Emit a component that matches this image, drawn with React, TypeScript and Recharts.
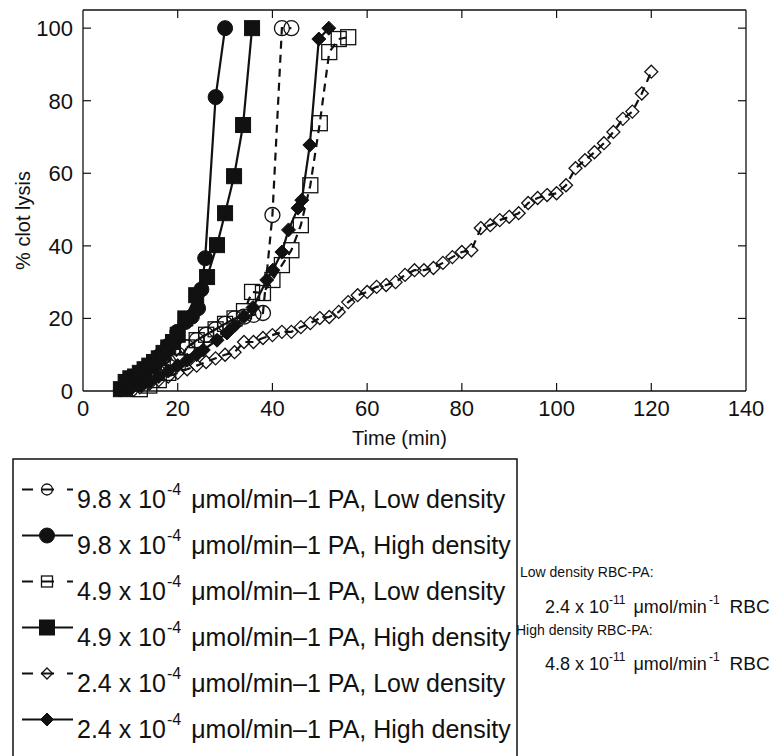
import React from 'react';
import { ScatterChart, Scatter, XAxis, YAxis, Label, ReferenceLine } from 'recharts';

const xTicks = [0, 20, 40, 60, 80, 100, 120, 140];
const yTicks = [0, 20, 40, 60, 80, 100];

// 9.8 x 10^-4 PA, low density (open circles, dashed)
const t98Low = [10, 12, 14, 16, 18, 20, 22, 24, 26, 28, 30, 32, 34, 36, 38, 40, 42, 44];
const v98Low = [0.5, 2, 4, 6, 8, 10, 12, 14, 15.5, 17, 18.5, 20, 20.5, 21, 21.5, 48.5, 100, 100];

// 9.8 x 10^-4 PA, high density (filled circles)
const t98High = [8, 10, 12, 14, 16, 18, 19.9, 21.6, 23, 24.3, 25, 25.8, 28, 30];
const v98High = [0.5, 2.5, 4.5, 7, 9.5, 12.5, 16.3, 19, 20.5, 22.8, 28, 36.6, 81, 100];

// 4.9 x 10^-4 PA, low density (open squares, dashed)
const t49Low = [12, 14, 16, 18, 20, 22, 24, 26, 28, 30, 32, 34, 35.7, 38, 40, 42, 44, 46, 48, 50, 52, 54, 56];
const v49Low = [0.5, 1.5, 3, 5, 8, 12, 14, 15.5, 17, 18.5, 20, 22, 27.3, 27, 30.6, 34.7, 38.8, 45.7, 56.7, 73.8, 93.4, 97, 97.5];

// 4.9 x 10^-4 PA, high density (filled squares)
const t49High = [8, 9, 10, 11, 12, 13, 14, 15, 16, 17, 18, 19, 20, 21.6, 23.9, 26.2, 28.3, 30, 31.9, 33.8, 35.7];
const v49High = [0.5, 2.5, 3.5, 4, 5, 6, 7, 8, 9, 10.5, 12, 13.5, 15.5, 20, 26.4, 31.4, 40.2, 49, 59.2, 73.3, 100];

// 2.4 x 10^-4 PA, low density (open diamonds, dashed)
const t24Low = [10, 12, 14, 16, 18, 20, 22, 24, 26, 28, 30, 32, 34, 36, 38, 40, 42, 44, 46, 48,
  50, 52, 54, 56, 58, 60, 62, 64, 66, 68, 70, 72, 74, 76, 78, 80, 82, 84, 86, 88,
  90, 92, 94, 96, 98, 100, 102, 104, 106, 108, 110, 112, 114, 116, 118, 120];
const v24Low = [0.5, 1, 2, 3, 4, 5, 6, 7, 8, 9, 10, 10.7, 13.5, 13.5, 14.6, 15.4, 16.3, 16.3, 17.6, 18.7,
  20.1, 20.4, 21.8, 24.5, 26.4, 27.3, 28.7, 29.2, 30, 32, 33.3, 33.3, 33.9, 35.3, 36.9, 38.3, 38.8, 44.9, 45.7, 47.1,
  48, 49, 51.8, 53.2, 54, 54.5, 56.7, 61.4, 63.6, 65.8, 68.3, 71.4, 75, 77, 82, 88];

// 2.4 x 10^-4 PA, high density (filled diamonds)
const t24High = [10, 12, 14, 16, 18, 20, 22, 24, 25.4, 28.3, 30.4, 32, 34, 35.9, 38.8, 40.1, 42, 43.4, 45.4, 46.2, 47.9, 49.8, 51.9];
const v24High = [0.5, 1.5, 2.5, 4, 5.5, 7, 8.5, 10, 11.3, 14, 16, 18, 20.5, 23, 30.6, 33.3, 38.3, 44.4, 50.4, 52.6, 67.8, 97, 100];

const zip = (xs: number[], ys: number[]) => xs.map((x, i) => ({ x, y: ys[i] }));

type Kind = 'circle' | 'square' | 'diamond';

interface SeriesDef {
  rate: string;
  density: string;
  kind: Kind;
  filled: boolean;
  dashed: boolean;
  data: { x: number; y: number }[];
}

const series: SeriesDef[] = [
  { rate: '9.8', density: 'Low', kind: 'circle', filled: false, dashed: true, data: zip(t98Low, v98Low) },
  { rate: '9.8', density: 'High', kind: 'circle', filled: true, dashed: false, data: zip(t98High, v98High) },
  { rate: '4.9', density: 'Low', kind: 'square', filled: false, dashed: true, data: zip(t49Low, v49Low) },
  { rate: '4.9', density: 'High', kind: 'square', filled: true, dashed: false, data: zip(t49High, v49High) },
  { rate: '2.4', density: 'Low', kind: 'diamond', filled: false, dashed: true, data: zip(t24Low, v24Low) },
  { rate: '2.4', density: 'High', kind: 'diamond', filled: true, dashed: false, data: zip(t24High, v24High) },
];

const FONT = '"Liberation Sans", Arial, Helvetica, sans-serif';
const INK = '#111';

const X_MAX = 140;
const Y_MAX = 105;
const PLOT_W = 663;
const PLOT_H = 381;
// inward tick length (8px) expressed in axis units
const TICK_X = (X_MAX * 8) / PLOT_W;
const TICK_Y = (Y_MAX * 8) / PLOT_H;

function marker(kind: Kind, filled: boolean, cx: number, cy: number, s: number) {
  const st = { fill: filled ? INK : 'none', stroke: INK, strokeWidth: filled ? 1 : 1.3 };
  if (kind === 'circle') return <circle cx={cx} cy={cy} r={s} {...st} />;
  if (kind === 'square') return <rect x={cx - s} y={cy - s} width={s * 2} height={s * 2} {...st} />;
  return <polygon points={`${cx},${cy - s} ${cx + s},${cy} ${cx},${cy + s} ${cx - s},${cy}`} {...st} />;
}

const chartSize = (k: Kind, filled: boolean) => (k === 'diamond' ? (filled ? 7 : 6.5) : 7.5);
const legendSize = (k: Kind, filled: boolean) => {
  if (k === 'circle') return filled ? 7.5 : 5.5;
  if (k === 'square') return filled ? 7.5 : 5.5;
  return filled ? 6.5 : 5.5;
};

const axisStroke = { stroke: INK, strokeWidth: 1.3 };
const tickStyle = { fill: INK, fontSize: 22 };

export default function App() {
  return (
    <div style={{ position: 'absolute', left: 0, top: 0, width: 773, height: 756, overflow: 'hidden', background: '#fff', fontFamily: FONT }}>
      <ScatterChart width={773} height={456} margin={{ top: 0, right: 0, bottom: 25, left: 0 }} style={{ fontFamily: FONT }}>
        <XAxis xAxisId="top" orientation="top" type="number" dataKey="x" domain={[0, X_MAX]} ticks={xTicks}
          height={10} tick={false} tickLine={false} axisLine={axisStroke} />
        <XAxis dataKey="x" type="number" domain={[0, X_MAX]} ticks={xTicks} interval={0} height={40}
          tickSize={0} tickMargin={9} tickLine={false} axisLine={axisStroke} tick={tickStyle}>
          <Label value="Time (min)" position="bottom" offset={0} dx={-15} style={{ fill: INK, fontSize: 20 }} />
        </XAxis>
        <YAxis dataKey="y" type="number" domain={[0, Y_MAX]} ticks={yTicks} interval={0} width={83}
          tickSize={0} tickMargin={10} tickLine={false} axisLine={axisStroke} tick={tickStyle}>
          <Label value="% clot lysis" angle={-90} position="center" dx={-19} dy={20} style={{ fill: INK, fontSize: 20 }} />
        </YAxis>
        <YAxis yAxisId="right" orientation="right" type="number" dataKey="y" domain={[0, Y_MAX]} ticks={yTicks}
          width={27} tick={false} tickLine={false} axisLine={axisStroke} />

        {xTicks.slice(1, -1).map(t => (
          <ReferenceLine key={`b${t}`} segment={[{ x: t, y: 0 }, { x: t, y: TICK_Y }]} stroke={INK} strokeWidth={1.2} />
        ))}
        {xTicks.slice(1, -1).map(t => (
          <ReferenceLine key={`t${t}`} segment={[{ x: t, y: Y_MAX }, { x: t, y: Y_MAX - TICK_Y }]} stroke={INK} strokeWidth={1.2} />
        ))}
        {yTicks.slice(1).map(t => (
          <ReferenceLine key={`l${t}`} segment={[{ x: 0, y: t }, { x: TICK_X, y: t }]} stroke={INK} strokeWidth={1.2} />
        ))}
        {yTicks.slice(1).map(t => (
          <ReferenceLine key={`r${t}`} segment={[{ x: X_MAX, y: t }, { x: X_MAX - TICK_X, y: t }]} stroke={INK} strokeWidth={1.2} />
        ))}

        {series.map((s, i) => (
          <Scatter
            key={i}
            data={s.data}
            isAnimationActive={false}
            line={{ stroke: INK, strokeWidth: 2.2, strokeDasharray: s.dashed ? '8 6' : undefined }}
            lineJointType="linear"
            shape={(p: any) => marker(s.kind, s.filled, p.cx, p.cy, chartSize(s.kind, s.filled))}
          />
        ))}
      </ScatterChart>

      <svg width={773} height={316} style={{ position: 'absolute', left: 0, top: 440, fontFamily: FONT }}>
        <g transform="translate(0,-440)">
          <rect x={13} y={459} width={504} height={320} fill="none" stroke={INK} strokeWidth={1.5} />
          {series.map((s, i) => {
            const base = 508 + i * 46;
            const ly = base - 18.5;
            return (
              <g key={i}>
                <line x1={22} x2={73} y1={ly} y2={ly} stroke={INK} strokeWidth={2}
                  strokeDasharray={s.dashed ? '11 8 13 13 6' : undefined} />
                {marker(s.kind, s.filled, 47, ly, legendSize(s.kind, s.filled))}
                <text x={77} y={base} fontSize={25} fill={INK}>
                  {s.rate} x 10
                  <tspan dy={-13} dx={1} fontSize={16}>-4</tspan>
                  <tspan dy={13} dx={3} fontSize={25}>{` \u03bcmol/min\u20131 PA, ${s.density} density`}</tspan>
                </text>
              </g>
            );
          })}
          <text x={520} y={577} fontSize={14} fill={INK}>Low density RBC-PA:</text>
          <text x={545} y={613} fontSize={18} fill={INK}>
            2.4 x 10
            <tspan dy={-9} fontSize={12}>-11</tspan>
            <tspan dy={9} dx={8} fontSize={18}>{'\u03bcmol/min'}</tspan>
            <tspan dy={-9} dx={2} fontSize={12}>-1</tspan>
            <tspan dy={9} dx={10} fontSize={19}>RBC</tspan>
          </text>
          <text x={516} y={635} fontSize={14} fill={INK}>High density RBC-PA:</text>
          <text x={545} y={670} fontSize={18} fill={INK}>
            4.8 x 10
            <tspan dy={-9} fontSize={12}>-11</tspan>
            <tspan dy={9} dx={8} fontSize={18}>{'\u03bcmol/min'}</tspan>
            <tspan dy={-9} dx={2} fontSize={12}>-1</tspan>
            <tspan dy={9} dx={10} fontSize={19}>RBC</tspan>
          </text>
        </g>
      </svg>
    </div>
  );
}
